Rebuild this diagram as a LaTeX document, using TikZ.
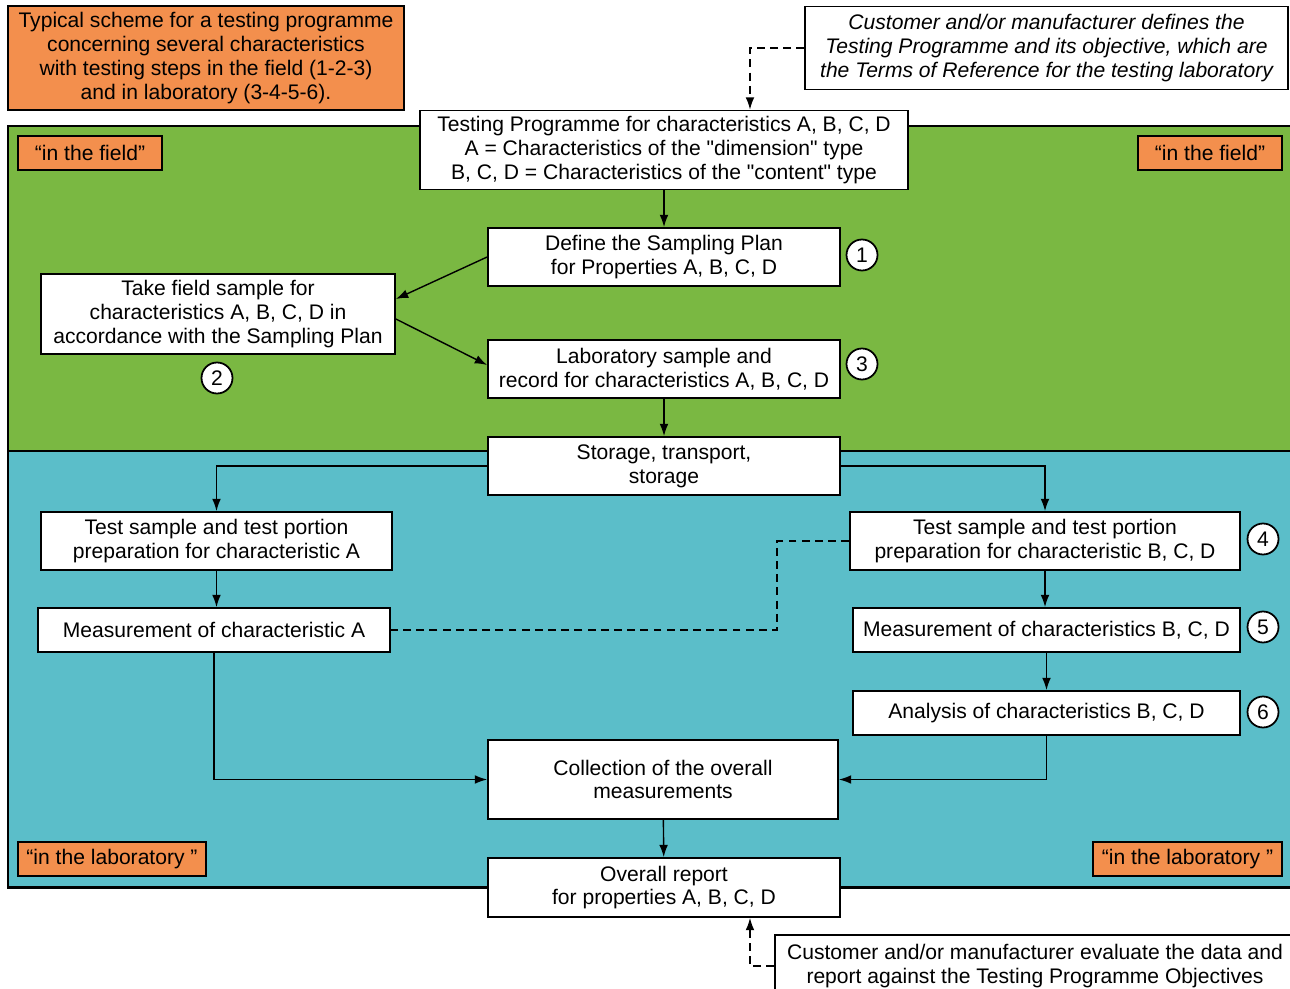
\documentclass[tikz,border=0pt]{standalone}
\usepackage{fontspec}
\setmainfont{Liberation Sans}
\usetikzlibrary{arrows.meta}
\definecolor{fieldgreen}{RGB}{122,184,66}
\definecolor{labteal}{RGB}{91,190,201}
\definecolor{tagorange}{RGB}{243,143,77}
\def\px{0.02cm}
\begin{document}
\begin{tikzpicture}[x=0.02cm, y=-0.02cm, >={Latex[length=7pt,width=5pt]},
	font=\fontsize{12}{13.6}\selectfont, line join=miter,
	box/.style={draw, fill=white, line width=1pt, align=center, inner sep=0pt},
	tag/.style={draw, fill=tagorange, line width=1.2pt, inner sep=0pt, minimum height=34*\px},
	num/.style={draw, circle, fill=white, line width=1pt, minimum size=31*\px, inner sep=0pt},
	link/.style={->, line width=0.8pt},
	dashlink/.style={line width=0.8pt, dash pattern=on 4.5pt off 3pt}]
	
	\useasboundingbox (0,0) rectangle (1290,989);
	% field and laboratory areas
	\fill[fieldgreen] (8,126) rectangle (1300,451);
	\fill[labteal] (8,451) rectangle (1300,887);
	\draw[line width=1.7pt] (1300,126)--(8,126)--(8,887)--(1300,887) (8,451)--(1300,451);
	
	\node[box, fill=tagorange, line width=1.2pt, minimum width=396*\px, minimum height=104*\px] (title) at (206,58)
	{Typical scheme for a testing programme\\concerning several characteristics\\with testing steps in the field (1-2-3)\\and in laboratory (3-4-5-6).};
	\node[box, line width=0.7pt, font=\fontsize{12}{13.6}\selectfont\itshape, minimum width=483*\px, minimum height=83*\px] (cust1) at (1046.5,48)
	{Customer and/or manufacturer defines the\\Testing Programme and its objective, which are\\the Terms of Reference for the testing laboratory};
	
	\node[tag, minimum width=144*\px] (fieldL) at (90,153) {“in the field”};
	\node[tag, minimum width=144*\px] (fieldR) at (1210,153) {“in the field”};
	\node[tag, minimum width=188*\px] (labL) at (112,859) {“in the laboratory ”};
	\node[tag, minimum width=189*\px] (labR) at (1187.5,859) {“in the laboratory ”};
	
	\node[box, minimum width=488*\px, minimum height=79*\px] (prog) at (664,150)
	{Testing Programme for characteristics A, B, C, D\\A = Characteristics of the \textquotedbl dimension\textquotedbl\ type\\B, C, D = Characteristics of the \textquotedbl content\textquotedbl\ type};
	\node[box, minimum width=352*\px, minimum height=58*\px] (plan) at (664,257) {Define the Sampling Plan\\for Properties A, B, C, D};
	\node[box, minimum width=354*\px, minimum height=80*\px] (take) at (218,314)
	{Take field sample for\\characteristics A, B, C, D in\\accordance with the Sampling Plan};
	\node[box, minimum width=352*\px, minimum height=58*\px] (labs) at (664,369) {Laboratory sample and\\record for characteristics A, B, C, D};
	\node[box, minimum width=352*\px, minimum height=58*\px] (store) at (664,466) {Storage, transport,\\storage};
	\node[box, minimum width=351*\px, minimum height=58*\px] (prepA) at (216.5,541) {Test sample and test portion\\preparation for characteristic A};
	\node[box, minimum width=390*\px, minimum height=58*\px] (prepB) at (1045,541) {Test sample and test portion\\preparation for characteristic B, C, D};
	\node[box, minimum width=352*\px, minimum height=44*\px] (measA) at (214,630) {Measurement of characteristic A};
	\node[box, minimum width=387*\px, minimum height=44*\px] (measB) at (1046.5,630) {Measurement of characteristics B, C, D};
	\node[box, minimum width=387*\px, minimum height=44*\px] (anal) at (1046.5,713) {Analysis of characteristics B, C, D};
	\node[box, minimum width=350*\px, minimum height=79*\px] (coll) at (663,779.5) {Collection of the overall\\measurements};
	\node[box, minimum width=352*\px, minimum height=59*\px] (report) at (664,887.5) {Overall report\\for properties A, B, C, D};
	\node[box, line width=0.7pt, minimum width=520*\px, minimum height=62*\px] (cust2) at (1035,966)
	{Customer and/or manufacturer evaluate the data and\\report against the Testing Programme Objectives};
	
	\node[num] (n1) at (862,255) {1};
	\node[num] (n2) at (217,378) {2};
	\node[num] (n3) at (862,364) {3};
	\node[num] (n4) at (1263,539) {4};
	\node[num] (n5) at (1263,627) {5};
	\node[num] (n6) at (1263,712) {6};
	
	\draw[link] (prog)--(plan);
	\draw[link] (plan.west)--([yshift=0.3cm]take.east);
	\draw[link] ([yshift=-0.1cm]take.east)--([yshift=0.08cm]labs.west);
	\draw[link] (labs)--(store);
	\draw[link] (store.west) -| (prepA);
	\draw[link] (store.east) -| (prepB);
	\draw[link] (prepA.south)--(prepA.south |- measA.north);
	\draw[link] (prepB.south)--(prepB.south |- measB.north);
	\draw[link] (measB)--(anal);
	\draw[link] (measA.south) |- (coll.west);
	\draw[link] (anal.south) |- (coll.east);
	\draw[link] (coll)--(report);
	
	\coordinate (bend) at (777,541);
	\draw[dashlink] (prepB.west)--(bend) |- (measA.east);
	\draw[dashlink,->] (cust1.west) -| ([xshift=1.72cm]prog.north);
	\draw[dashlink,->] (cust2.west) -| ([xshift=1.72cm]report.south);
\end{tikzpicture}
\end{document}
